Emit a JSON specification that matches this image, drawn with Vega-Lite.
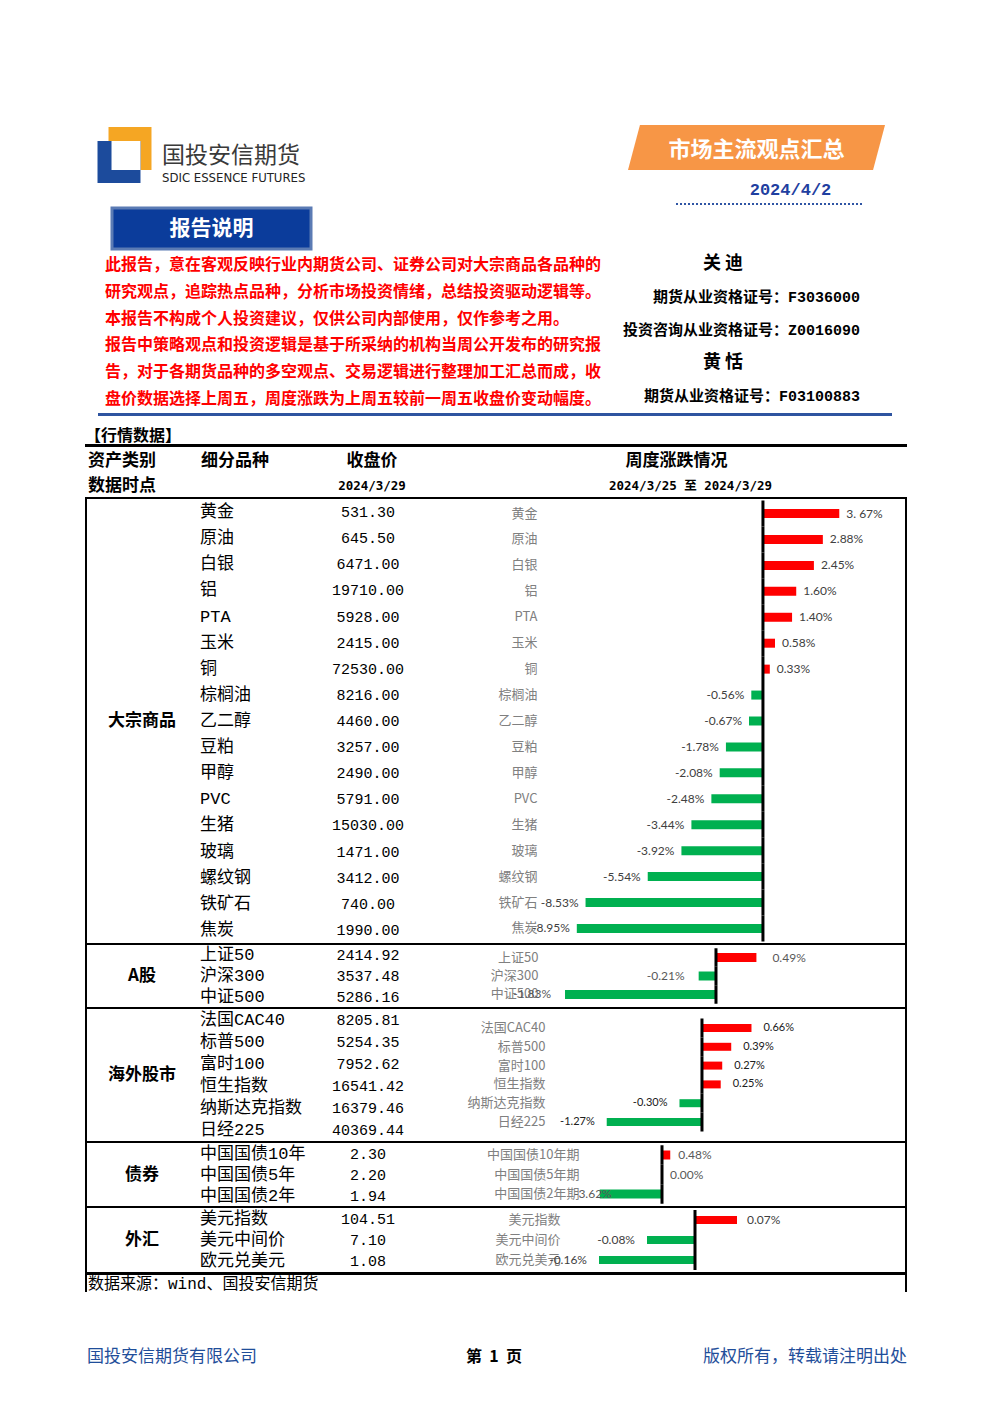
{
"$schema": "https://vega.github.io/schema/vega-lite/v6.json",
"background": "white",
"padding": {"left": 85, "top": 120, "right": 0, "bottom": 36},
"config": {"font": "Noto Sans CJK SC", "view": {"stroke": null}},
"datasets": {
 "rows": [
  {"sec":"大宗商品","item":"黄金","close":531.30,"chg":3.67,"label":"3. 67%"},
  {"sec":"大宗商品","item":"原油","close":645.50,"chg":2.88,"label":"2.88%"},
  {"sec":"大宗商品","item":"白银","close":6471.00,"chg":2.45,"label":"2.45%"},
  {"sec":"大宗商品","item":"铝","close":19710.00,"chg":1.60,"label":"1.60%"},
  {"sec":"大宗商品","item":"PTA","close":5928.00,"chg":1.40,"label":"1.40%"},
  {"sec":"大宗商品","item":"玉米","close":2415.00,"chg":0.58,"label":"0.58%"},
  {"sec":"大宗商品","item":"铜","close":72530.00,"chg":0.33,"label":"0.33%"},
  {"sec":"大宗商品","item":"棕榈油","close":8216.00,"chg":-0.56,"label":"-0.56%"},
  {"sec":"大宗商品","item":"乙二醇","close":4460.00,"chg":-0.67,"label":"-0.67%"},
  {"sec":"大宗商品","item":"豆粕","close":3257.00,"chg":-1.78,"label":"-1.78%"},
  {"sec":"大宗商品","item":"甲醇","close":2490.00,"chg":-2.08,"label":"-2.08%"},
  {"sec":"大宗商品","item":"PVC","close":5791.00,"chg":-2.48,"label":"-2.48%"},
  {"sec":"大宗商品","item":"生猪","close":15030.00,"chg":-3.44,"label":"-3.44%"},
  {"sec":"大宗商品","item":"玻璃","close":1471.00,"chg":-3.92,"label":"-3.92%"},
  {"sec":"大宗商品","item":"螺纹钢","close":3412.00,"chg":-5.54,"label":"-5.54%"},
  {"sec":"大宗商品","item":"铁矿石","close":740.00,"chg":-8.53,"label":"-8.53%"},
  {"sec":"大宗商品","item":"焦炭","close":1990.00,"chg":-8.95,"label":"-8.95%"},
  {"sec":"A股","item":"上证50","close":2414.92,"chg":0.49,"label":"0.49%"},
  {"sec":"A股","item":"沪深300","close":3537.48,"chg":-0.21,"label":"-0.21%"},
  {"sec":"A股","item":"中证500","close":5286.16,"chg":-1.83,"label":"-1.83%"},
  {"sec":"海外股市","item":"法国CAC40","close":8205.81,"chg":0.66,"label":"0.66%"},
  {"sec":"海外股市","item":"标普500","close":5254.35,"chg":0.39,"label":"0.39%"},
  {"sec":"海外股市","item":"富时100","close":7952.62,"chg":0.27,"label":"0.27%"},
  {"sec":"海外股市","item":"恒生指数","close":16541.42,"chg":0.25,"label":"0.25%"},
  {"sec":"海外股市","item":"纳斯达克指数","close":16379.46,"chg":-0.30,"label":"-0.30%"},
  {"sec":"海外股市","item":"日经225","close":40369.44,"chg":-1.27,"label":"-1.27%"},
  {"sec":"债券","item":"中国国债10年期","close":2.30,"chg":0.48,"label":"0.48%"},
  {"sec":"债券","item":"中国国债5年期","close":2.20,"chg":0.00,"label":"0.00%"},
  {"sec":"债券","item":"中国国债2年期","close":1.94,"chg":-3.62,"label":"-3.62%"},
  {"sec":"外汇","item":"美元指数","close":104.51,"chg":0.07,"label":"0.07%"},
  {"sec":"外汇","item":"美元中间价","close":7.10,"chg":-0.08,"label":"-0.08%"},
  {"sec":"外汇","item":"欧元兑美元","close":1.08,"chg":-0.16,"label":"-0.16%"}
 ],
 "disclaimer": [
  {"line":1,"text":"此报告，意在客观反映行业内期货公司、证券公司对大宗商品各品种的"},
  {"line":2,"text":"研究观点，追踪热点品种，分析市场投资情绪，总结投资驱动逻辑等。"},
  {"line":3,"text":"本报告不构成个人投资建议，仅供公司内部使用，仅作参考之用。"},
  {"line":4,"text":"报告中策略观点和投资逻辑是基于所采纳的机构当周公开发布的研究报"},
  {"line":5,"text":"告，对于各期货品种的多空观点、交易逻辑进行整理加工汇总而成，收"},
  {"line":6,"text":"盘价数据选择上周五，周度涨跌为上周五较前一周五收盘价变动幅度。"}
 ],
 "names": [
  {"slot":1,"kind":"name","text":"关 迪"},
  {"slot":2,"kind":"cert","text":"期货从业资格证号：F3036000"},
  {"slot":3,"kind":"cert","text":"投资咨询从业资格证号：Z0016090"},
  {"slot":4,"kind":"name","text":"黄 恬"},
  {"slot":5,"kind":"cert","text":"期货从业资格证号：F03100883"}
 ]
},
"spacing": 0,
"vconcat": [
 {"hconcat": [
  {"vconcat": [
   {"hconcat": [
    {"width":12,"height":70,"data":{"values":[]},"mark":"text"},
    {"width":55,"height":70,"data":{"values":[{}]},"layer":[
     {"mark":{"type":"point","shape":"M -0.571 -1 L 0.964 -1 L 0.964 0.536 L -0.571 0.536 Z","size":3136,"filled":true,"fill":"#F5A623","opacity":1,"strokeWidth":0},"encoding":{}},
     {"mark":{"type":"point","shape":"M -0.964 -0.5 L 0.571 -0.5 L 0.571 1 L -0.964 1 Z","size":3136,"filled":true,"fill":"#1C4B9C","opacity":1,"strokeWidth":0},"encoding":{}},
     {"mark":{"type":"point","shape":"M -0.464 -0.5 L 0.571 -0.5 L 0.571 0.536 L -0.464 0.536 Z","size":3136,"filled":true,"fill":"#FFFFFF","opacity":1,"strokeWidth":0},"encoding":{}}
    ]},
    {"width":10,"height":70,"data":{"values":[]},"mark":"text"},
    {"vconcat": [
     {"width":238,"height":22,"data":{"values":[]},"mark":"text"},
     {"width":238,"height":28,"data":{"values":[{}]},"mark":{"type":"text","text":"国投安信期货","align":"left","fontSize":23,"color":"#3a3a3a"},"encoding":{"x":{"datum":"L","type":"nominal","scale":{"type":"point","domain":["L","C","R"],"padding":0},"axis":null}}},
     {"width":238,"height":16,"data":{"values":[{}]},"mark":{"type":"text","text":"SDIC ESSENCE FUTURES","align":"left","fontSize":13,"font":"Liberation Sans Narrow, DejaVu Sans Condensed, Liberation Sans","color":"#222222"},"encoding":{"x":{"datum":"L","type":"nominal","scale":{"type":"point","domain":["L","C","R"],"padding":0},"axis":null}}},
     {"width":238,"height":4,"data":{"values":[]},"mark":"text"}
    ],"spacing":0,"bounds":"flush"}
   ],"spacing":0},
   {"hconcat": [
    {"width":25,"height":62,"data":{"values":[]},"mark":"text"},
    {"vconcat": [
     {"width":199,"height":18,"data":{"values":[]},"mark":"text"},
     {"width":199,"height":41,"data":{"values":[{}]},"view":{"fill":"#0B3C9B","stroke":"#5B7BB4","strokeWidth":3},"mark":{"type":"text","text":"报告说明","fontSize":21,"fontWeight":"bold","color":"white"},"encoding":{}},
     {"width":199,"height":3,"data":{"values":[]},"mark":"text"}
    ],"spacing":0,"bounds":"flush"}
   ],"spacing":0},
   {"hconcat": [
    {"width":20,"height":160,"data":{"values":[]},"mark":"text"},
    {"width":497,"height":160,"data":{"name":"disclaimer"},"mark":{"type":"text","align":"left","fontSize":16,"fontWeight":"bold","color":"#FF0000"},"encoding":{"x":{"datum":"L","type":"nominal","scale":{"type":"point","domain":["L","C","R"],"padding":0},"axis":null},"y":{"field":"line","type":"ordinal","scale":{"type":"band","paddingInner":0,"paddingOuter":0},"axis":null},"text":{"field":"text"}}}
   ],"spacing":0,"bounds":"flush"}
  ],"spacing":0},
  {"vconcat": [
   {"hconcat": [
    {"width":4,"height":55,"data":{"values":[]},"mark":"text"},
    {"width":301,"height":55,"data":{"values":[{}]},"layer":[
     {"mark":{"type":"point","shape":"M -0.907 -0.175 L 1 -0.175 L 0.907 0.175 L -1 0.175 Z","size":66049,"filled":true,"fill":"#F79646","opacity":1,"strokeWidth":0},"encoding":{}},
     {"mark":{"type":"text","text":"市场主流观点汇总","fontSize":22,"fontWeight":"bold","color":"white","dy":2},"encoding":{}}
    ]}
   ],"spacing":0,"bounds":"flush"},
   {"hconcat": [
    {"width":73,"height":29,"data":{"values":[]},"mark":"text"},
    {"width":187,"height":29,"data":{"values":[{}]},"layer":[
     {"mark":{"type":"rule","color":"#2F55A4","strokeWidth":2,"strokeDash":[2,2]},"encoding":{"y":{"datum":"B","type":"nominal","scale":{"type":"point","domain":["T","B"],"padding":0},"axis":null}}},
     {"mark":{"type":"text","text":"2024/4/2","font":"Liberation Mono","fontSize":17,"fontWeight":"bold","color":"#1F3FA0","dx":22},"encoding":{}}
    ]}
   ],"spacing":0,"bounds":"flush"},
   {"width":305,"height":42,"data":{"values":[]},"mark":"text"},
   {"width":258,"height":166,"data":{"name":"names"},
    "encoding":{"y":{"field":"slot","type":"ordinal","scale":{"type":"band","paddingInner":0,"paddingOuter":0},"axis":null},"text":{"field":"text"}},
    "layer":[
     {"transform":[{"filter":"datum.kind === 'name'"}],"mark":{"type":"text","fontSize":18,"fontWeight":"bold","color":"black","dx":-8},"encoding":{"x":{"datum":"C","type":"nominal","scale":{"type":"point","domain":["L","C","R"],"padding":0},"axis":null}}},
     {"transform":[{"filter":"datum.kind === 'cert'"}],"mark":{"type":"text","align":"right","fontSize":15,"fontWeight":"bold","font":"Liberation Mono, Noto Sans CJK SC","color":"black"},"encoding":{"x":{"datum":"R","type":"nominal","scale":{"type":"point","domain":["L","C","R"],"padding":0},"axis":null}}}
    ]}
  ],"spacing":0}
 ],"spacing":0},
 {"hconcat": [
  {"width":13,"height":3,"data":{"values":[]},"mark":"text"},
  {"width":794,"height":3,"data":{"values":[]},"mark":"text","view":{"fill":"#2E54A0","stroke":null}}
 ],"spacing":0,"bounds":"flush"},
 {"width":822,"height":12,"data":{"values":[]},"mark":"text"},
 {"width":822,"height":16,"data":{"values":[{}]},"mark":{"type":"text","text":"【行情数据】","align":"left","fontSize":16,"fontWeight":"bold"},"encoding":{"x":{"datum":"L","type":"nominal","scale":{"type":"point","domain":["L","C","R"],"padding":0},"axis":null}}},
 {"width":822,"height":3,"data":{"values":[]},"mark":"text","view":{"fill":"black","stroke":null}},
 {"hconcat": [
  {"width":112,"height":27,"data":{"values":[{}]},"mark":{"type":"text","text":"资产类别","align":"left","dx":3,"fontSize":17,"fontWeight":"bold"},"encoding":{"x":{"datum":"L","type":"nominal","scale":{"type":"point","domain":["L","C","R"],"padding":0},"axis":null}}},
  {"width":133,"height":27,"data":{"values":[{}]},"mark":{"type":"text","text":"细分品种","align":"left","dx":4,"fontSize":17,"fontWeight":"bold"},"encoding":{"x":{"datum":"L","type":"nominal","scale":{"type":"point","domain":["L","C","R"],"padding":0},"axis":null}}},
  {"width":76,"height":27,"data":{"values":[{}]},"mark":{"type":"text","text":"收盘价","dx":4,"fontSize":17,"fontWeight":"bold"},"encoding":{"x":{"datum":"C","type":"nominal","scale":{"type":"point","domain":["L","C","R"],"padding":0},"axis":null}}},
  {"width":501,"height":27,"data":{"values":[{}]},"mark":{"type":"text","text":"周度涨跌情况","dx":20,"fontSize":17,"fontWeight":"bold"},"encoding":{"x":{"datum":"C","type":"nominal","scale":{"type":"point","domain":["L","C","R"],"padding":0},"axis":null}}}
 ],"spacing":0,"bounds":"flush"},
 {"hconcat": [
  {"width":112,"height":23,"data":{"values":[{}]},"mark":{"type":"text","text":"数据时点","align":"left","dx":3,"fontSize":17,"fontWeight":"bold"},"encoding":{"x":{"datum":"L","type":"nominal","scale":{"type":"point","domain":["L","C","R"],"padding":0},"axis":null}}},
  {"width":133,"height":23,"data":{"values":[]},"mark":"text"},
  {"width":76,"height":23,"data":{"values":[{}]},"mark":{"type":"text","text":"2024/3/29","dx":4,"fontSize":12.5,"fontWeight":"bold","font":"DejaVu Sans Mono, Noto Sans CJK SC"},"encoding":{"x":{"datum":"C","type":"nominal","scale":{"type":"point","domain":["L","C","R"],"padding":0},"axis":null}}},
  {"width":501,"height":23,"data":{"values":[{}]},"mark":{"type":"text","text":"2024/3/25  至  2024/3/29","dx":34,"fontSize":12.5,"fontWeight":"bold","font":"DejaVu Sans Mono, Noto Sans CJK SC"},"encoding":{"x":{"datum":"C","type":"nominal","scale":{"type":"point","domain":["L","C","R"],"padding":0},"axis":null}}}
 ],"spacing":0,"bounds":"flush"},
 {"width":822,"height":2,"data":{"values":[]},"mark":"text","view":{"fill":"black","stroke":null}},
 {"hconcat": [
  {"width":2,"height":773,"data":{"values":[]},"mark":"text","view":{"fill":"black","stroke":null}},
  {"vconcat": [
   {"hconcat": [
    {"width":110,"height":444,"data":{"name":"rows"},"transform":[{"filter":"datum.sec === '大宗商品'"},{"aggregate":[{"op":"count","as":"n"}],"groupby":["sec"]}],"mark":{"type":"text","fontSize":17,"fontWeight":"bold"},"encoding":{"text":{"field":"sec"}}},
    {"width":133,"height":444,"data":{"name":"rows"},"transform":[{"filter":"datum.sec === '大宗商品'"}],"mark":{"type":"text","align":"left","dx":3,"fontSize":17,"font":"Liberation Mono, Noto Sans CJK SC","limit":112,"ellipsis":"\u200b"},"encoding":{"x":{"datum":"L","type":"nominal","scale":{"type":"point","domain":["L","C","R"],"padding":0},"axis":null},"y":{"field":"item","type":"nominal","sort":null,"scale":{"type":"band","paddingInner":0,"paddingOuter":0},"axis":null},"text":{"field":"item"}}},
    {"width":76,"height":444,"data":{"name":"rows"},"transform":[{"filter":"datum.sec === '大宗商品'"}],"mark":{"type":"text","fontSize":15,"font":"Liberation Mono"},"encoding":{"x":{"datum":"C","type":"nominal","scale":{"type":"point","domain":["L","C","R"],"padding":0},"axis":null},"y":{"field":"item","type":"nominal","sort":null,"scale":{"type":"band","paddingInner":0,"paddingOuter":0},"axis":null},"text":{"field":"close","type":"quantitative","format":".2f"}}},
    {"width":134,"height":444,"data":{"values":[]},"mark":"text"},
    {"width":365,"height":444,"data":{"name":"rows"},"transform":[{"filter":"datum.sec === '大宗商品'"}],
     "encoding":{"y":{"field":"item","type":"nominal","sort":null,"scale":{"type":"band","paddingInner":0,"paddingOuter":0.06},"axis":{"title":null,"domain":false,"ticks":false,"grid":false,"labelPadding":3,"labelColor":"#808080","labelFontSize":13,"labelFont":"Noto Sans CJK SC","labelLimit":200}}},
     "layer":[
      {"mark":{"type":"bar","size":9},"encoding":{"x":{"field":"chg","type":"quantitative","scale":{"domain":[-10.72,6.83],"nice":false,"zero":false},"axis":null},"color":{"condition":{"test":"datum.chg > 0","value":"#FF0000"},"value":"#00B050"}}},
      {"mark":{"type":"rect","stroke":"black","strokeWidth":3,"fill":"black"},"encoding":{"x":{"datum":0,"type":"quantitative","scale":{"domain":[-10.72,6.83],"nice":false,"zero":false},"axis":null},"x2":{"datum":0}}},
      {"transform":[{"filter":"datum.chg >= 0"}],"mark":{"type":"text","align":"left","dx":7,"fontSize":12,"font":"Lato","color":"#404040"},"encoding":{"x":{"field":"chg","type":"quantitative","scale":{"domain":[-10.72,6.83],"nice":false,"zero":false},"axis":null},"text":{"field":"label"}}},
      {"transform":[{"filter":"datum.chg < 0"}],"mark":{"type":"text","align":"right","dx":-7,"fontSize":12,"font":"Lato","color":"#404040"},"encoding":{"x":{"field":"chg","type":"quantitative","scale":{"domain":[-10.72,6.83],"nice":false,"zero":false},"axis":null},"text":{"field":"label"}}}
     ]}
   ],"spacing":0,"bounds":"flush"},
   {"width":818,"height":2,"data":{"values":[]},"mark":"text","view":{"fill":"black","stroke":null}},
   {"hconcat": [
    {"width":110,"height":62,"data":{"name":"rows"},"transform":[{"filter":"datum.sec === 'A股'"},{"aggregate":[{"op":"count","as":"n"}],"groupby":["sec"]}],"mark":{"type":"text","fontSize":17,"fontWeight":"bold"},"encoding":{"text":{"field":"sec"}}},
    {"width":133,"height":62,"data":{"name":"rows"},"transform":[{"filter":"datum.sec === 'A股'"}],"mark":{"type":"text","align":"left","dx":3,"fontSize":17,"font":"Liberation Mono, Noto Sans CJK SC","limit":112,"ellipsis":"\u200b"},"encoding":{"x":{"datum":"L","type":"nominal","scale":{"type":"point","domain":["L","C","R"],"padding":0},"axis":null},"y":{"field":"item","type":"nominal","sort":null,"scale":{"type":"band","paddingInner":0,"paddingOuter":0},"axis":null},"text":{"field":"item"}}},
    {"width":76,"height":62,"data":{"name":"rows"},"transform":[{"filter":"datum.sec === 'A股'"}],"mark":{"type":"text","fontSize":15,"font":"Liberation Mono"},"encoding":{"x":{"datum":"C","type":"nominal","scale":{"type":"point","domain":["L","C","R"],"padding":0},"axis":null},"y":{"field":"item","type":"nominal","sort":null,"scale":{"type":"band","paddingInner":0,"paddingOuter":0},"axis":null},"text":{"field":"close","type":"quantitative","format":".2f"}}},
    {"width":135,"height":62,"data":{"values":[]},"mark":"text"},
    {"width":364,"height":62,"data":{"name":"rows"},"transform":[{"filter":"datum.sec === 'A股'"}],
     "encoding":{"y":{"field":"item","type":"nominal","sort":null,"scale":{"type":"band","paddingInner":0,"paddingOuter":0.18},"axis":{"title":null,"domain":false,"ticks":false,"grid":false,"labelPadding":3,"labelColor":"#808080","labelFontSize":13,"labelFont":"Noto Sans CJK SC","labelLimit":200}}},
     "layer":[
      {"mark":{"type":"bar","size":9},"encoding":{"x":{"field":"chg","type":"quantitative","scale":{"domain":[-2.121,2.291],"nice":false,"zero":false},"axis":null},"color":{"condition":{"test":"datum.chg > 0","value":"#FF0000"},"value":"#00B050"}}},
      {"mark":{"type":"rect","stroke":"black","strokeWidth":3,"fill":"black"},"encoding":{"x":{"datum":0,"type":"quantitative","scale":{"domain":[-2.121,2.291],"nice":false,"zero":false},"axis":null},"x2":{"datum":0}}},
      {"transform":[{"filter":"datum.chg >= 0"}],"mark":{"type":"text","align":"left","dx":16,"fontSize":12,"font":"Lato","color":"#595959"},"encoding":{"x":{"field":"chg","type":"quantitative","scale":{"domain":[-2.121,2.291],"nice":false,"zero":false},"axis":null},"text":{"field":"label"}}},
      {"transform":[{"filter":"datum.chg < 0"}],"mark":{"type":"text","align":"right","dx":-14,"fontSize":12,"font":"Lato","color":"#595959"},"encoding":{"x":{"field":"chg","type":"quantitative","scale":{"domain":[-2.121,2.291],"nice":false,"zero":false},"axis":null},"text":{"field":"label"}}}
     ]}
   ],"spacing":0,"bounds":"flush"},
   {"width":818,"height":2,"data":{"values":[]},"mark":"text","view":{"fill":"black","stroke":null}},
   {"hconcat": [
    {"width":110,"height":132,"data":{"name":"rows"},"transform":[{"filter":"datum.sec === '海外股市'"},{"aggregate":[{"op":"count","as":"n"}],"groupby":["sec"]}],"mark":{"type":"text","fontSize":17,"fontWeight":"bold"},"encoding":{"text":{"field":"sec"}}},
    {"width":133,"height":132,"data":{"name":"rows"},"transform":[{"filter":"datum.sec === '海外股市'"}],"mark":{"type":"text","align":"left","dx":3,"fontSize":17,"font":"Liberation Mono, Noto Sans CJK SC","limit":112,"ellipsis":"\u200b"},"encoding":{"x":{"datum":"L","type":"nominal","scale":{"type":"point","domain":["L","C","R"],"padding":0},"axis":null},"y":{"field":"item","type":"nominal","sort":null,"scale":{"type":"band","paddingInner":0,"paddingOuter":0},"axis":null},"text":{"field":"item"}}},
    {"width":76,"height":132,"data":{"name":"rows"},"transform":[{"filter":"datum.sec === '海外股市'"}],"mark":{"type":"text","fontSize":15,"font":"Liberation Mono"},"encoding":{"x":{"datum":"C","type":"nominal","scale":{"type":"point","domain":["L","C","R"],"padding":0},"axis":null},"y":{"field":"item","type":"nominal","sort":null,"scale":{"type":"band","paddingInner":0,"paddingOuter":0},"axis":null},"text":{"field":"close","type":"quantitative","format":".2f"}}},
    {"width":142,"height":132,"data":{"values":[]},"mark":"text"},
    {"width":357,"height":132,"data":{"name":"rows"},"transform":[{"filter":"datum.sec === '海外股市'"}],
     "encoding":{"y":{"field":"item","type":"nominal","sort":null,"scale":{"type":"band","paddingInner":0,"paddingOuter":0.51},"axis":{"title":null,"domain":false,"ticks":false,"grid":false,"labelPadding":3,"labelColor":"#808080","labelFontSize":13,"labelFont":"Noto Sans CJK SC","labelLimit":200}}},
     "layer":[
      {"mark":{"type":"bar","size":8},"encoding":{"x":{"field":"chg","type":"quantitative","scale":{"domain":[-2.053,2.707],"nice":false,"zero":false},"axis":null},"color":{"condition":{"test":"datum.chg > 0","value":"#FF0000"},"value":"#00B050"}}},
      {"mark":{"type":"rect","stroke":"black","strokeWidth":3,"fill":"black"},"encoding":{"x":{"datum":0,"type":"quantitative","scale":{"domain":[-2.053,2.707],"nice":false,"zero":false},"axis":null},"x2":{"datum":0}}},
      {"transform":[{"filter":"datum.chg >= 0"}],"mark":{"type":"text","align":"left","dx":12,"fontSize":11,"font":"Lato","color":"#202020"},"encoding":{"x":{"field":"chg","type":"quantitative","scale":{"domain":[-2.053,2.707],"nice":false,"zero":false},"axis":null},"text":{"field":"label"}}},
      {"transform":[{"filter":"datum.chg < 0"}],"mark":{"type":"text","align":"right","dx":-12,"fontSize":11,"font":"Lato","color":"#202020"},"encoding":{"x":{"field":"chg","type":"quantitative","scale":{"domain":[-2.053,2.707],"nice":false,"zero":false},"axis":null},"text":{"field":"label"}}}
     ]}
   ],"spacing":0,"bounds":"flush"},
   {"width":818,"height":2,"data":{"values":[]},"mark":"text","view":{"fill":"black","stroke":null}},
   {"hconcat": [
    {"width":110,"height":63,"data":{"name":"rows"},"transform":[{"filter":"datum.sec === '债券'"},{"aggregate":[{"op":"count","as":"n"}],"groupby":["sec"]}],"mark":{"type":"text","fontSize":17,"fontWeight":"bold"},"encoding":{"text":{"field":"sec"}}},
    {"width":133,"height":63,"data":{"name":"rows"},"transform":[{"filter":"datum.sec === '债券'"}],"mark":{"type":"text","align":"left","dx":3,"fontSize":17,"font":"Liberation Mono, Noto Sans CJK SC","limit":112,"ellipsis":"\u200b"},"encoding":{"x":{"datum":"L","type":"nominal","scale":{"type":"point","domain":["L","C","R"],"padding":0},"axis":null},"y":{"field":"item","type":"nominal","sort":null,"scale":{"type":"band","paddingInner":0,"paddingOuter":0},"axis":null},"text":{"field":"item"}}},
    {"width":76,"height":63,"data":{"name":"rows"},"transform":[{"filter":"datum.sec === '债券'"}],"mark":{"type":"text","fontSize":15,"font":"Liberation Mono"},"encoding":{"x":{"datum":"C","type":"nominal","scale":{"type":"point","domain":["L","C","R"],"padding":0},"axis":null},"y":{"field":"item","type":"nominal","sort":null,"scale":{"type":"band","paddingInner":0,"paddingOuter":0},"axis":null},"text":{"field":"close","type":"quantitative","format":".2f"}}},
    {"width":176,"height":63,"data":{"values":[]},"mark":"text"},
    {"width":323,"height":63,"data":{"name":"rows"},"transform":[{"filter":"datum.sec === '债券'"}],
     "encoding":{"y":{"field":"item","type":"nominal","sort":null,"scale":{"type":"band","paddingInner":0,"paddingOuter":0.115},"axis":{"title":null,"domain":false,"ticks":false,"grid":false,"labelPadding":3,"labelColor":"#808080","labelFontSize":13,"labelFont":"Noto Sans CJK SC","labelLimit":200}}},
     "layer":[
      {"mark":{"type":"bar","size":9},"encoding":{"x":{"field":"chg","type":"quantitative","scale":{"domain":[-4.651,14.128],"nice":false,"zero":false},"axis":null},"color":{"condition":{"test":"datum.chg > 0","value":"#FF0000"},"value":"#00B050"}}},
      {"mark":{"type":"rect","stroke":"black","strokeWidth":3,"fill":"black"},"encoding":{"x":{"datum":0,"type":"quantitative","scale":{"domain":[-4.651,14.128],"nice":false,"zero":false},"axis":null},"x2":{"datum":0}}},
      {"transform":[{"filter":"datum.chg >= 0"}],"mark":{"type":"text","align":"left","dx":8,"fontSize":12,"font":"Lato","color":"#595959"},"encoding":{"x":{"field":"chg","type":"quantitative","scale":{"domain":[-4.651,14.128],"nice":false,"zero":false},"axis":null},"text":{"field":"label"}}},
      {"transform":[{"filter":"datum.chg < 0"}],"mark":{"type":"text","align":"right","dx":12,"fontSize":12,"font":"Lato","color":"#595959"},"encoding":{"x":{"field":"chg","type":"quantitative","scale":{"domain":[-4.651,14.128],"nice":false,"zero":false},"axis":null},"text":{"field":"label"}}}
     ]}
   ],"spacing":0,"bounds":"flush"},
   {"width":818,"height":2,"data":{"values":[]},"mark":"text","view":{"fill":"black","stroke":null}},
   {"hconcat": [
    {"width":110,"height":64,"data":{"name":"rows"},"transform":[{"filter":"datum.sec === '外汇'"},{"aggregate":[{"op":"count","as":"n"}],"groupby":["sec"]}],"mark":{"type":"text","fontSize":17,"fontWeight":"bold"},"encoding":{"text":{"field":"sec"}}},
    {"width":133,"height":64,"data":{"name":"rows"},"transform":[{"filter":"datum.sec === '外汇'"}],"mark":{"type":"text","align":"left","dx":3,"fontSize":17,"font":"Liberation Mono, Noto Sans CJK SC","limit":112,"ellipsis":"\u200b"},"encoding":{"x":{"datum":"L","type":"nominal","scale":{"type":"point","domain":["L","C","R"],"padding":0},"axis":null},"y":{"field":"item","type":"nominal","sort":null,"scale":{"type":"band","paddingInner":0,"paddingOuter":0},"axis":null},"text":{"field":"item"}}},
    {"width":76,"height":64,"data":{"name":"rows"},"transform":[{"filter":"datum.sec === '外汇'"}],"mark":{"type":"text","fontSize":15,"font":"Liberation Mono"},"encoding":{"x":{"datum":"C","type":"nominal","scale":{"type":"point","domain":["L","C","R"],"padding":0},"axis":null},"y":{"field":"item","type":"nominal","sort":null,"scale":{"type":"band","paddingInner":0,"paddingOuter":0},"axis":null},"text":{"field":"close","type":"quantitative","format":".2f"}}},
    {"width":157,"height":64,"data":{"values":[]},"mark":"text"},
    {"width":342,"height":64,"data":{"name":"rows"},"transform":[{"filter":"datum.sec === '外汇'"}],
     "encoding":{"y":{"field":"item","type":"nominal","sort":null,"scale":{"type":"band","paddingInner":0,"paddingOuter":0.1},"axis":{"title":null,"domain":false,"ticks":false,"grid":false,"labelPadding":3,"labelColor":"#808080","labelFontSize":13,"labelFont":"Noto Sans CJK SC","labelLimit":200}}},
     "layer":[
      {"mark":{"type":"bar","size":8},"encoding":{"x":{"field":"chg","type":"quantitative","scale":{"domain":[-0.22,0.35],"nice":false,"zero":false},"axis":null},"color":{"condition":{"test":"datum.chg > 0","value":"#FF0000"},"value":"#00B050"}}},
      {"mark":{"type":"rect","stroke":"black","strokeWidth":3,"fill":"black"},"encoding":{"x":{"datum":0,"type":"quantitative","scale":{"domain":[-0.22,0.35],"nice":false,"zero":false},"axis":null},"x2":{"datum":0}}},
      {"transform":[{"filter":"datum.chg >= 0"}],"mark":{"type":"text","align":"left","dx":10,"fontSize":12,"font":"Lato","color":"#404040"},"encoding":{"x":{"field":"chg","type":"quantitative","scale":{"domain":[-0.22,0.35],"nice":false,"zero":false},"axis":null},"text":{"field":"label"}}},
      {"transform":[{"filter":"datum.chg < 0"}],"mark":{"type":"text","align":"right","dx":-12,"fontSize":12,"font":"Lato","color":"#404040"},"encoding":{"x":{"field":"chg","type":"quantitative","scale":{"domain":[-0.22,0.35],"nice":false,"zero":false},"axis":null},"text":{"field":"label"}}}
     ]}
   ],"spacing":0,"bounds":"flush"}
  ],"spacing":0},
  {"width":2,"height":773,"data":{"values":[]},"mark":"text","view":{"fill":"black","stroke":null}}
 ],"spacing":0},
 {"width":822,"height":3,"data":{"values":[]},"mark":"text","view":{"fill":"black","stroke":null}},
 {"hconcat": [
  {"width":2,"height":17,"data":{"values":[]},"mark":"text","view":{"fill":"black","stroke":null}},
  {"width":818,"height":17,"data":{"values":[{}]},"mark":{"type":"text","text":"数据来源：wind、国投安信期货","align":"left","dx":1,"fontSize":16,"font":"Liberation Mono, Noto Sans CJK SC"},"encoding":{"x":{"datum":"L","type":"nominal","scale":{"type":"point","domain":["L","C","R"],"padding":0},"axis":null}}},
  {"width":2,"height":17,"data":{"values":[]},"mark":"text","view":{"fill":"black","stroke":null}}
 ],"spacing":0,"bounds":"flush"},
 {"width":822,"height":54,"data":{"values":[]},"mark":"text"},
 {"width":822,"height":22,"data":{"values":[{}]},"layer":[
  {"mark":{"type":"text","text":"国投安信期货有限公司","align":"left","dx":2,"fontSize":17,"color":"#1F4E9A"},"encoding":{"x":{"datum":"L","type":"nominal","scale":{"type":"point","domain":["L","C","R"],"padding":0},"axis":null}}},
  {"mark":{"type":"text","text":"第\u00a0\u00a01\u00a0\u00a0页","fontSize":16,"fontWeight":"bold","dx":-2},"encoding":{"x":{"datum":"C","type":"nominal","scale":{"type":"point","domain":["L","C","R"],"padding":0},"axis":null}}},
  {"mark":{"type":"text","text":"版权所有，转载请注明出处","align":"right","fontSize":17,"color":"#1F4E9A"},"encoding":{"x":{"datum":"R","type":"nominal","scale":{"type":"point","domain":["L","C","R"],"padding":0},"axis":null}}}
 ]}
]
}
